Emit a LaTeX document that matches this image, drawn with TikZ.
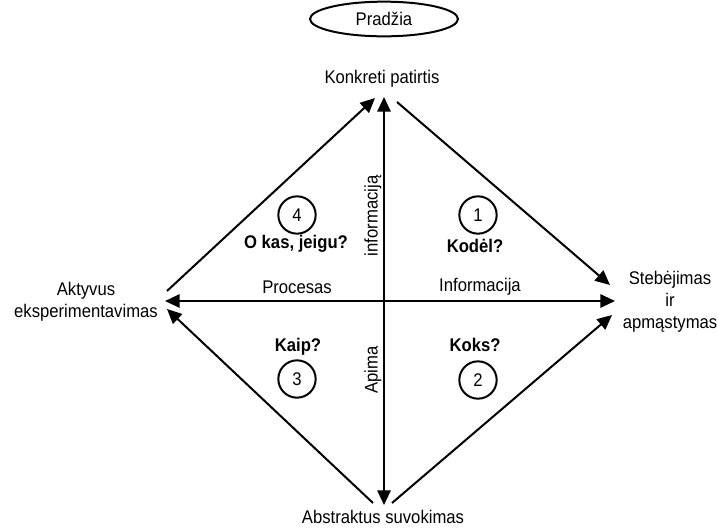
\documentclass[tikz,border=0pt]{standalone}
\usepackage{fontspec}
\setmainfont{Liberation Sans}
\usetikzlibrary{shapes.geometric,arrows.meta}
\newcommand{\tallText}[1]{\scalebox{1}[1.1]{#1}}
\begin{document}
\begin{tikzpicture}[x=0.75pt,y=-0.75pt,
  font=\fontsize{12.5}{15}\selectfont,
  lbl/.style={inner sep=0pt,align=center},
  qst/.style={inner sep=0pt,font=\fontsize{12.5}{15}\selectfont\bfseries},
  num/.style={circle,draw,line width=1.5pt,minimum size=28pt,inner sep=0pt},
  link/.style={line width=1.5pt,-{Triangle[length=11pt,width=10pt]}},
  biLink/.style={line width=1.5pt,{Triangle[length=11pt,width=10pt]}-{Triangle[length=11pt,width=10pt]}}]
\useasboundingbox (0,0) rectangle (718,529);

% start marker and the four poles of the cycle
\node[ellipse,draw,line width=1.5pt,minimum width=111pt,minimum height=26pt,inner sep=0pt] (start) at (384,19) {\tallText{Pradžia}};
\node[lbl] (concrete) at (382,79) {\tallText{Konkreti patirtis}};
\node[lbl] (reflect) at (670,302) {\tallText{\begin{tabular}{@{}c@{}}Stebėjimas\\ir\\apmąstymas\end{tabular}}};
\node[lbl] (active) at (86,302) {\tallText{\begin{tabular}{@{}c@{}}Aktyvus\\eksperimentavimas\end{tabular}}};
\node[lbl] (abstract) at (383,517) {\tallText{Abstraktus suvokimas}};

% arrow end points
\coordinate (cL) at (375,98);
\coordinate (cR) at (397,102);
\coordinate (cV) at (384,97);
\coordinate (rT) at (610,285);
\coordinate (rH) at (615,301);
\coordinate (rB) at (612,315);
\coordinate (aT) at (167,291);
\coordinate (aH) at (165,301);
\coordinate (aB) at (167,309);
\coordinate (bL) at (373,503);
\coordinate (bR) at (392,503);
\coordinate (bV) at (384,505);

% cycle edges
\draw[link] (aT) -- (cL);
\draw[link] (cR) -- (rT);
\draw[link] (bR) -- (rB);
\draw[link] (bL) -- (aB);

% axes
\draw[biLink] (cV) -- (bV);
\draw[biLink] (aH) -- (rH);

% axis labels
\node[lbl] (axProc) at (297,287) {\tallText{Procesas}};
\node[lbl] (axInfo) at (480,287) {\tallText{Informacija}};
\node[lbl,rotate=90] (axInfoV) at (373,216) {\tallText{informaciją}};
\node[lbl,rotate=90] (axScope) at (373,370) {\tallText{Apima}};

% quadrant numbers and questions
\node[num] (n4) at (297,215) {\tallText{4}};
\node[qst] (q4) at (296,244) {\tallText{O kas, jeigu?}};
\node[num] (n1) at (478,215) {\tallText{1}};
\node[qst] (q1) at (475,246) {\tallText{Kodėl?}};
\node[qst] (q3) at (298,347) {\tallText{Kaip?}};
\node[num] (n3) at (297,379) {\tallText{3}};
\node[qst] (q2) at (475,345) {\tallText{Koks?}};
\node[num] (n2) at (478,380) {\tallText{2}};
\end{tikzpicture}
\end{document}
